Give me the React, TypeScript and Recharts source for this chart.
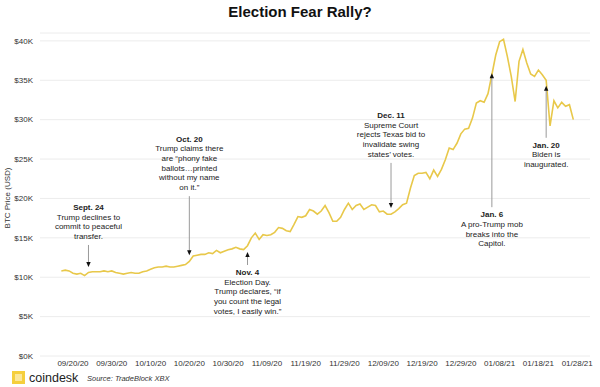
import { LineChart, Line, XAxis, YAxis, CartesianGrid, ReferenceDot } from "recharts";

// BTC close, $K, one point per day starting 09/17/20
const btcPrice = [
  10.8, 10.9, 10.8, 10.5, 10.4, 10.5, 10.2, 10.6, 10.7, 10.7,
  10.7, 10.8, 10.7, 10.8, 10.6, 10.5, 10.4, 10.5, 10.6, 10.5,
  10.5, 10.7, 10.8, 11.0, 11.2, 11.3, 11.3, 11.4, 11.3, 11.3,
  11.4, 11.5, 11.6, 12.0, 12.7, 12.8, 12.9, 12.9, 13.1, 13.0,
  13.4, 13.1, 13.3, 13.5, 13.6, 13.8, 13.6, 13.5, 14.0, 15.0,
  15.6, 14.8, 15.4, 15.3, 15.4, 15.7, 16.3, 16.2, 15.9, 15.8,
  16.7, 17.7, 17.6, 17.8, 18.6, 18.4, 18.0, 18.4, 19.1, 18.2,
  17.1, 17.1, 17.6, 18.6, 19.4, 18.6, 19.1, 19.3, 18.6, 18.9,
  19.2, 19.1, 18.3, 18.4, 18.0, 18.0, 18.3, 18.7, 19.2, 19.4,
  21.3, 22.9, 23.2, 23.2, 23.3, 22.5, 23.6, 22.8, 23.7, 24.9,
  26.4, 26.2, 27.0, 28.2, 28.8, 28.9, 30.2, 32.1, 32.4, 32.2,
  33.3, 35.7, 38.2, 39.9, 40.2, 38.0, 35.5, 32.3, 37.4, 38.9,
  37.2, 35.8, 35.5, 36.3, 35.7, 35.0, 29.2, 32.4, 31.5, 32.2,
  31.7, 31.9, 30.0,
];

const xTickDays = [3, 13, 23, 33, 43, 53, 63, 73, 83, 93, 103, 113, 123, 133];
const xTickLabels = [
  "09/20/20", "09/30/20", "10/10/20", "10/20/20", "10/30/20", "11/09/20", "11/19/20",
  "11/29/20", "12/09/20", "12/19/20", "12/29/20", "01/08/21", "01/18/21", "01/28/21",
];
const yTicks = [0, 5, 10, 15, 20, 25, 30, 35, 40];

const annotations = [
  { day: 7, tip: 11.3, dir: "down", len: 22, lines: ["Sept. 24", "Trump declines to", "commit to peaceful", "transfer."] },
  { day: 33, tip: 12.8, dir: "down", len: 59, lines: ["Oct. 20", "Trump claims there", "are \u201cphony fake", "ballots\u2026printed", "without my name", "on it.\u201d"] },
  { day: 48, tip: 13.2, dir: "up", len: 13, lines: ["Nov. 4", "Election Day.", "Trump declares, \u201cif", "you count the legal", "votes, I easily win.\u201d"] },
  { day: 85, tip: 18.8, dir: "down", len: 45, lines: ["Dec. 11", "Supreme Court", "rejects Texas bid to", "invalidate swing", "states\u2019 votes."] },
  { day: 111, tip: 35.9, dir: "up", len: 134, lines: ["Jan. 6", "A pro-Trump mob", "breaks into the", "Capitol."] },
  { day: 125, tip: 34.3, dir: "up", len: 52, lines: ["Jan. 20", "Biden is", "inaugurated."] },
];

const data = btcPrice.map((price, day) => ({ day, price }));
const FONT = "'Liberation Sans', Arial, sans-serif";
const LH = 9.7;

function Callout(props: any) {
  const { cx, cy, note } = props;
  const down = note.dir === "down";
  const end = down ? cy - note.len : cy + note.len;
  const n = note.lines.length;
  const first = down ? end - 6 - (n - 1) * LH : end + 10;
  const head = down
    ? `${cx - 2.2},${cy - 5} ${cx + 2.2},${cy - 5} ${cx},${cy}`
    : `${cx - 2.2},${cy + 5} ${cx + 2.2},${cy + 5} ${cx},${cy}`;
  return (
    <g>
      <line x1={cx} x2={cx} y1={end} y2={down ? cy - 4 : cy + 4} stroke="#9a9a9a" strokeWidth={1} />
      <polygon points={head} fill="#111" />
      <text textAnchor="middle" fontFamily={FONT} fontSize={8} fill="#222">
        {note.lines.map((t: string, i: number) => (
          <tspan key={i} x={cx} y={first + i * LH} fontWeight={i === 0 ? 700 : 400}>
            {t}
          </tspan>
        ))}
      </text>
    </g>
  );
}

export default function App() {
  return (
    <div style={{ position: "absolute", left: 0, top: 0, width: 600, height: 387, background: "#fff" }}>
      <LineChart width={600} height={387} data={data} margin={{ top: 33, right: 10, bottom: 0, left: 0 }}>
        <CartesianGrid vertical={false} stroke="#ececec" />
        <XAxis
          dataKey="day"
          type="number"
          domain={[-5.5, 136.3]}
          ticks={xTickDays}
          tickFormatter={(d: number) => xTickLabels[xTickDays.indexOf(d)]}
          axisLine={false}
          tickLine={false}
          tickSize={0}
          tickMargin={4}
          height={31}
          interval={0}
          tick={{ fill: "#333", fontSize: 8, fontFamily: FONT }}
        />
        <YAxis
          type="number"
          domain={[0, 41]}
          ticks={yTicks}
          tickFormatter={(v: number) => `$${v}K`}
          axisLine={false}
          tickLine={false}
          tickSize={0}
          tickMargin={7}
          width={40}
          tick={{ fill: "#333", fontSize: 8, fontFamily: FONT }}
        />
        <Line
          type="linear"
          dataKey="price"
          stroke="#e8c84a"
          strokeWidth={1.6}
          dot={false}
          isAnimationActive={false}
        />
        {annotations.map((a) => (
          <ReferenceDot
            key={a.day}
            x={a.day}
            y={a.tip}
            r={0}
            shape={(p: any) => <Callout {...p} note={a} />}
          />
        ))}
      </LineChart>
      <svg width={600} height={387} style={{ position: "absolute", left: 0, top: 0, pointerEvents: "none" }}>
        <text x={300} y={17} textAnchor="middle" fontFamily={FONT} fontSize={15} fontWeight={700} fill="#111">
          Election Fear Rally?
        </text>
        <text
          transform="translate(10,198) rotate(-90)"
          textAnchor="middle"
          fontFamily={FONT}
          fontSize={8}
          fill="#333"
        >
          BTC Price (USD)
        </text>
        <g>
          <rect x={12} y={371} width={13} height={13} fill="#f5cf3d" />
          <rect x={15} y={374} width={7} height={7} fill="#fbe79a" />
        </g>
        <text x={29} y={382} fontFamily={FONT} fontSize={12.5} fill="#222">
          coindesk
        </text>
        <text x={87} y={381} fontFamily={FONT} fontSize={7.5} fontStyle="italic" fill="#333">
          Source: TradeBlock XBX
        </text>
      </svg>
    </div>
  );
}
